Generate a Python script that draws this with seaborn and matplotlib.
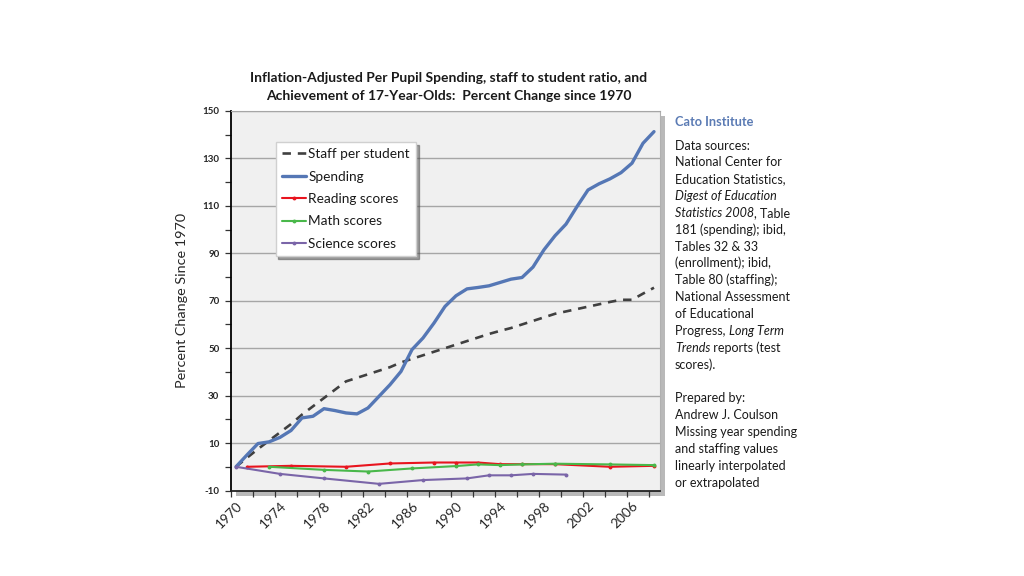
import matplotlib
matplotlib.use("Agg")
import matplotlib.pyplot as plt
from matplotlib.patches import Rectangle
from matplotlib.ticker import FixedLocator
import seaborn as sns
import pandas as pd

# ---------------- data ----------------
years = list(range(1970, 2009))
spending = [0, 5, 9.8, 10.5, 12.4, 15.3, 20.6, 21.3, 24.5, 23.7,
            22.7, 22.3, 24.8, 29.7, 34.6, 40.2, 49.4, 54.3, 60.6, 67.6,
            72.1, 75.0, 75.6, 76.3, 77.7, 79.1, 79.8, 84.2, 91.5, 97.4,
            102.3, 109.7, 116.7, 119.3, 121.4, 124.0, 128.0, 136.4, 141.3]
staff = [0, 3.8, 7.5, 11, 14.5, 18, 22, 25.5, 29, 32.5,
         36, 37.5, 39, 40.5, 42, 44, 45.5, 47, 48.5, 50,
         51.5, 53, 54.5, 56, 57.3, 58.5, 60, 61.5, 63, 64.5,
         65.5, 66.5, 67.5, 68.5, 69.5, 70.4, 70.4, 73, 75.5]

reading_years = [1971, 1975, 1980, 1984, 1988, 1990, 1992, 1994, 1996, 1999, 2004, 2008]
reading = [0, 0.4, 0.0, 1.4, 1.8, 1.8, 1.8, 1.1, 1.1, 1.1, 0.0, 0.4]

math_years = [1973, 1978, 1982, 1986, 1990, 1992, 1994, 1996, 1999, 2004, 2008]
math_scores = [0, -1.3, -2.0, -0.7, 0.3, 1.0, 0.7, 1.0, 1.3, 1.0, 0.7]

science_years = [1970, 1974, 1978, 1983, 1987, 1991, 1993, 1995, 1997, 2000]
science = [0, -3.0, -4.9, -7.2, -5.6, -4.9, -3.6, -3.6, -3.0, -3.3]

y_major = [-10, 10, 30, 50, 70, 90, 110, 130, 150]
x_labels = list(range(1970, 2007, 4))

title = ("Inflation-Adjusted Per Pupil Spending, staff to student ratio, and\n"
         "Achievement of 17-Year-Olds:  Percent Change since 1970")

# ---------------- style ----------------
sns.set_style("white")
plt.rcParams['font.family'] = ['Lato', 'DejaVu Sans']
plt.rcParams['text.color'] = '#1a1a1a'

W, H = 1024, 576
fig = plt.figure(figsize=(W / 100, H / 100), dpi=100)
fig.patch.set_facecolor('white')

L, R, T, B = 230.5, 659.5, 111.0, 490.5
ax = fig.add_axes([L / W, 1 - B / H, (R - L) / W, (B - T) / H])
ax.set_facecolor('#f0f0f0')
ax.set_zorder(2)

# shadow behind plot area
fig.patches.append(Rectangle(((L + 5) / W, 1 - (B + 5) / H), (R - L) / W, (B - T) / H,
                             transform=fig.transFigure, facecolor='#a8a8a8',
                             edgecolor='none', zorder=1, alpha=0.8))

# ---------------- lines ----------------
sns.lineplot(x=years, y=staff, ax=ax, color='#404040', linewidth=1.9,
             linestyle=(0, (3.2, 2.6)), label='Staff per student', errorbar=None)
sns.lineplot(x=years, y=spending, ax=ax, color='#5577b5', linewidth=2.4,
             label='Spending', errorbar=None)
sns.lineplot(x=reading_years, y=reading, ax=ax, color='#e8141e', linewidth=1.5,
             marker='o', markersize=2.8, markeredgewidth=0,
             label='Reading scores', errorbar=None)
sns.lineplot(x=math_years, y=math_scores, ax=ax, color='#49b84a', linewidth=1.5,
             marker='o', markersize=2.8, markeredgewidth=0,
             label='Math scores', errorbar=None)
sns.lineplot(x=science_years, y=science, ax=ax, color='#7a65a8', linewidth=1.5,
             marker='o', markersize=2.8, markeredgewidth=0,
             label='Science scores', errorbar=None)

# ---------------- axes ----------------
ax.set_xlim(1969.5, 2008.5)
ax.set_ylim(-10, 150)
ax.yaxis.set_major_locator(FixedLocator(y_major))
ax.yaxis.set_minor_locator(FixedLocator(list(range(0, 150, 20))))
ax.set_yticklabels([str(v) for v in y_major], fontsize=7, fontweight='bold')
ax.tick_params(axis='y', which='both', direction='out', length=4, width=0.9,
               color='#333333', left=True, pad=4)
ax.xaxis.set_major_locator(FixedLocator(x_labels))
ax.xaxis.set_minor_locator(FixedLocator([1969.5 + 2 * k for k in range(20)]))
ax.set_xticklabels([str(v) for v in x_labels], fontsize=9.8, rotation=45,
                   ha='right', rotation_mode='anchor')
ax.tick_params(axis='x', which='major', length=0, pad=6.5)
ax.tick_params(axis='x', which='minor', direction='out', length=4, width=0.9,
               color='#333333', bottom=True)

ax.grid(False)
for v in y_major[1:]:
    ax.axhline(v, color='#a6a6a6', linewidth=1.0, zorder=0.8)

ax.spines['left'].set_color('black')
ax.spines['left'].set_linewidth(1.3)
ax.spines['bottom'].set_color('#222222')
ax.spines['bottom'].set_linewidth(1.3)
ax.spines['top'].set_color('#a6a6a6')
ax.spines['right'].set_color('#b0b0b0')

ax.set_xlabel('')
ax.set_ylabel('Percent Change Since 1970', fontsize=10.4, labelpad=10)

leg = ax.legend(loc='upper left', bbox_to_anchor=(0.105, 0.918), borderaxespad=0,
                fontsize=9.8, frameon=True, fancybox=False, shadow=True,
                handlelength=1.8, handletextpad=0.15, labelspacing=0.76,
                borderpad=0.45)
leg.get_frame().set_edgecolor('#d0d0d0')
leg.get_frame().set_facecolor('white')
leg.get_frame().set_alpha(1)

# ---------------- title ----------------
fig.text(449 / W, 1 - 87 / H, title, ha='center', va='center', fontsize=10,
         fontweight='bold', linespacing=1.5)

# ---------------- side note ----------------
x0 = 675
fig.text(x0 / W, 1 - 122 / H, 'Cato Institute', color='#5b7bb4', fontsize=9.2,
         fontweight='bold', va='center')

lines = [
    [('Data sources:', 'normal')],
    [('National Center for', 'normal')],
    [('Education Statistics,', 'normal')],
    [('Digest of Education', 'italic')],
    [('Statistics 2008', 'italic'), (', Table', 'normal')],
    [('181 (spending); ibid,', 'normal')],
    [('Tables 32 & 33', 'normal')],
    [('(enrollment); ibid,', 'normal')],
    [('Table 80 (staffing);', 'normal')],
    [('National Assessment', 'normal')],
    [('of Educational', 'normal')],
    [('Progress, ', 'normal'), ('Long Term', 'italic')],
    [('Trends', 'italic'), (' reports (test', 'normal')],
    [('scores).', 'normal')],
    [],
    [('Prepared by:', 'normal')],
    [('Andrew J. Coulson', 'normal')],
    [('Missing year spending', 'normal')],
    [('and staffing values', 'normal')],
    [('linearly interpolated', 'normal')],
    [('or extrapolated', 'normal')],
]
fig.canvas.draw()
renderer = fig.canvas.get_renderer()
y = 149.5
for parts in lines:
    x = x0
    for txt, style in parts:
        t = fig.text(x / W, 1 - y / H, txt, fontsize=9, style=style,
                     va='baseline', ha='left')
        bb = t.get_window_extent(renderer=renderer)
        x = bb.x1
    y += 16.85

fig.savefig('out.png', dpi=100)
